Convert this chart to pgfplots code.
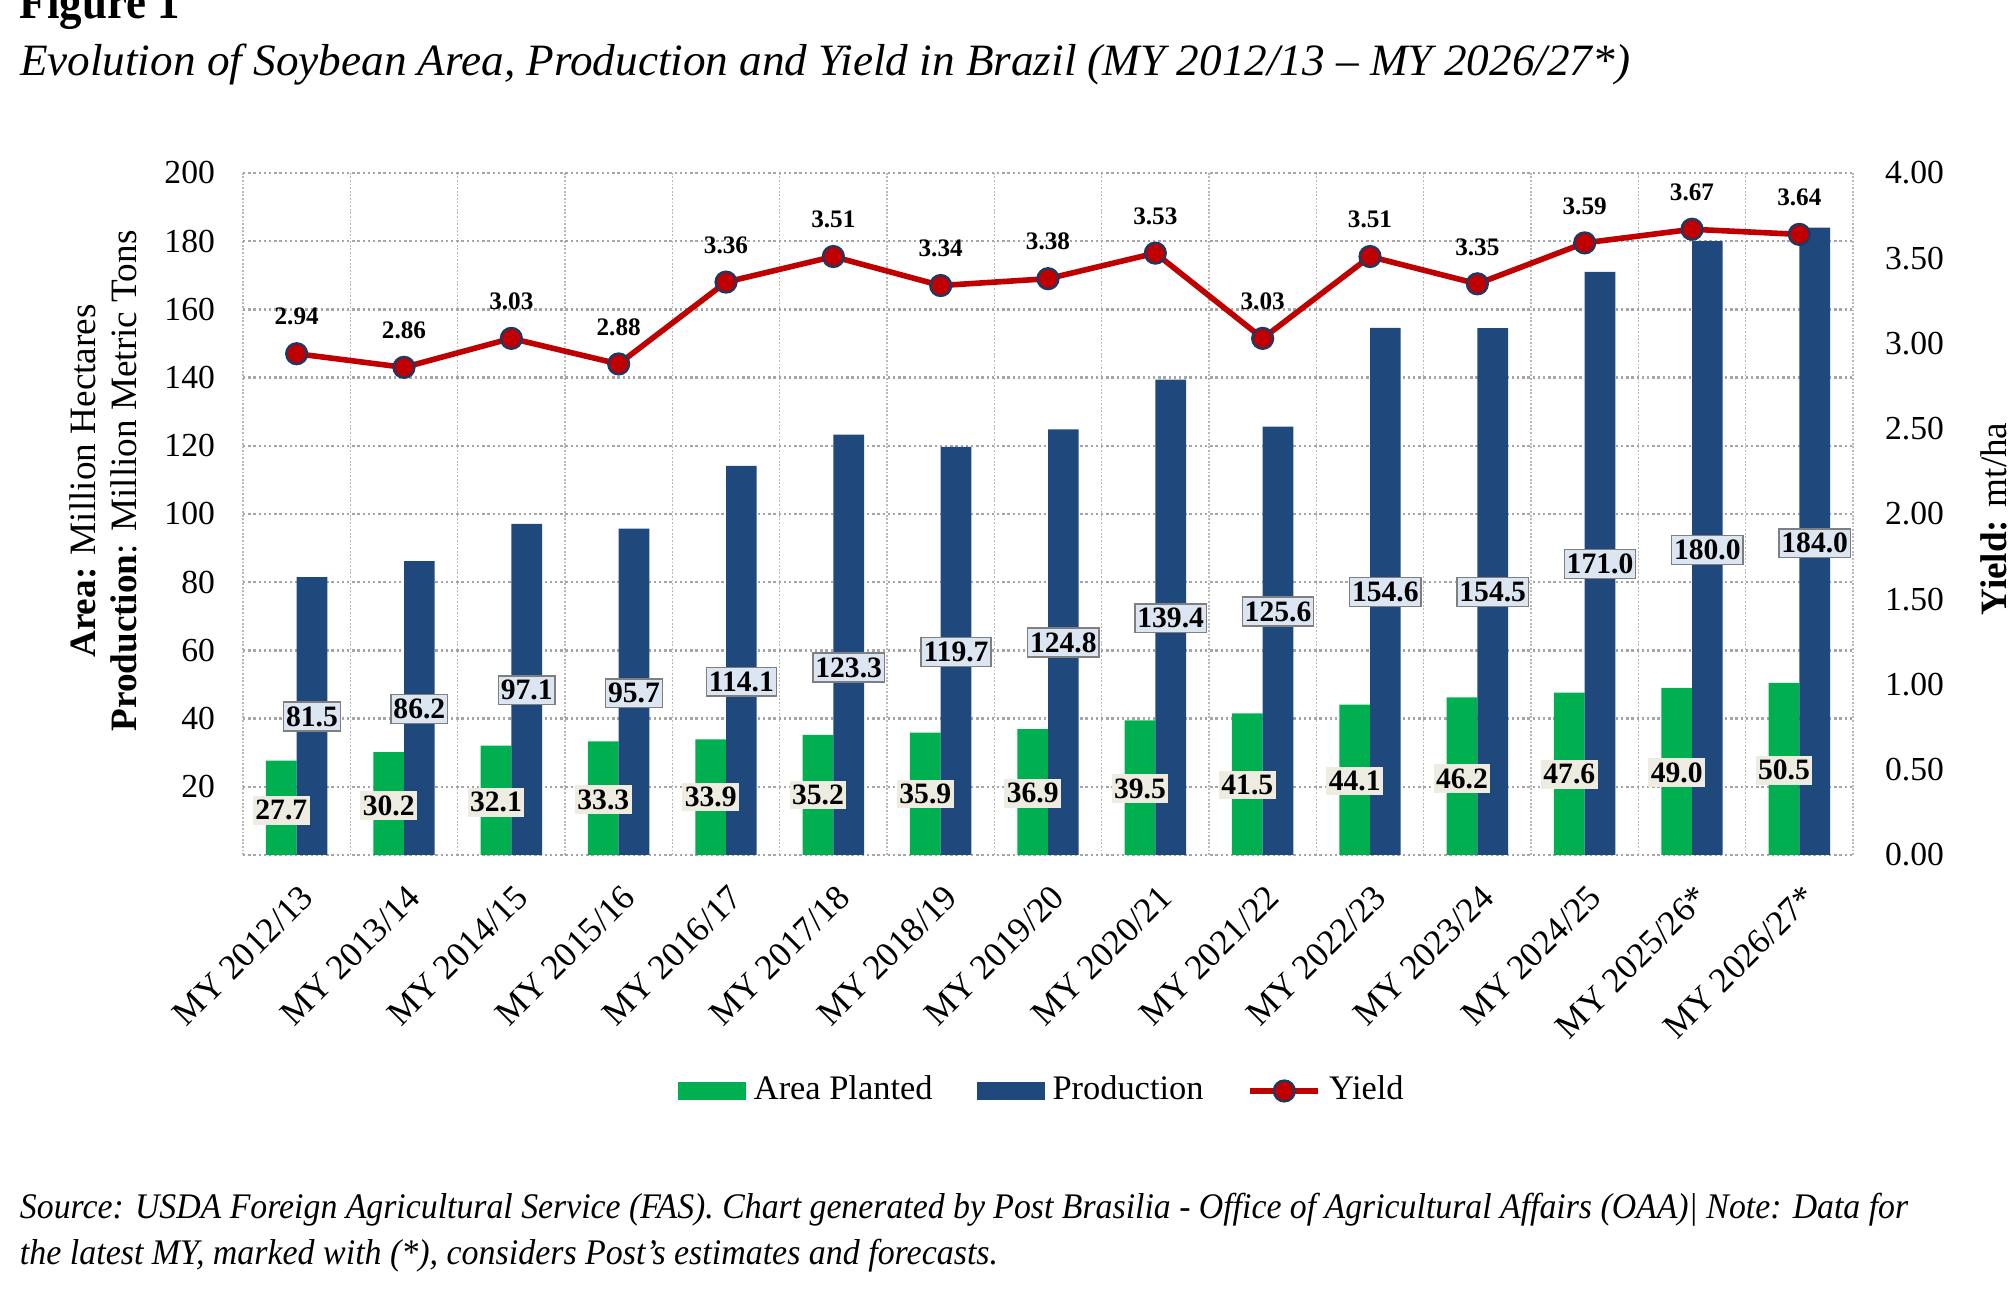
\documentclass[border=0pt]{standalone}
\usepackage{pgfplots}
\pgfplotsset{compat=1.18}
\usepackage{pgfplotstable}
\usepackage{graphicx}
\usepackage{fontspec}
\setmainfont{Liberation Serif}

\definecolor{areagreen}{HTML}{00B050}
\definecolor{prodblue}{HTML}{1F497D}
\definecolor{yieldred}{HTML}{C00000}
\definecolor{markernavy}{HTML}{1F3864}
\definecolor{gridgray}{HTML}{A6A6A6}
\definecolor{prodlabelfill}{HTML}{DCE6F2}
\definecolor{arealabelfill}{HTML}{EEECE1}
\definecolor{labelborder}{HTML}{7F7F7F}

% x: marketing year index; area (Mha), prod (MMT), yield (mt/ha);
% alab / plab: heights at which the value boxes of the two bar series sit
\pgfplotstableread{
x  area  prod   yield  alab  plab
0  27.7  81.5   2.94   13.1  40.6
1  30.2  86.2   2.86   14.5  42.8
2  32.1  97.1   3.03   15.5  48.3
3  33.3  95.7   2.88   16.2  47.4
4  33.9  114.1  3.36   17.0  50.8
5  35.2  123.3  3.51   17.6  55.0
6  35.9  119.7  3.34   17.9  59.5
7  36.9  124.8  3.38   18.1  62.3
8  39.5  139.4  3.53   19.5  69.4
9  41.5  125.6  3.03   20.5  71.4
10 44.1  154.6  3.51   21.7  77.1
11 46.2  154.5  3.35   22.4  77.1
12 47.6  171.0  3.59   23.7  85.3
13 49.0  180.0  3.67   24.2  89.5
14 50.5  184.0  3.64   24.9  91.4
}\soydata

\pgfplotsset{
  soyframe/.style={
    at={(60.75pt,112pt)}, anchor=south west,
    scale only axis, width=402.5pt, height=170.5pt,
    xmin=-0.5, xmax=14.5,
    axis line style={draw=none},
    major tick length=0pt, minor tick length=0pt,
    /pgf/number format/assume math mode=true,
  },
}

\begin{document}
\begin{tikzpicture}
\useasboundingbox (0pt,0pt) rectangle (502pt,325.75pt);

% headings
\node[anchor=base west, inner sep=0pt, font=\bfseries\fontsize{12.5}{14}\selectfont]
  at (4.8pt,321pt) {\resizebox{40pt}{\height}{Figure 1}};
\node[anchor=base west, inner sep=0pt, font=\itshape\fontsize{11.2}{13}\selectfont]
  at (4.8pt,306.9pt) {\resizebox{402.5pt}{\height}{Evolution of Soybean Area, Production and Yield in Brazil (MY 2012/13 – MY 2026/27*)}};

% bars on the left scale
\begin{axis}[
  soyframe,
  ymin=0, ymax=200,
  ytick={20,40,...,200},
  xtick={0,...,14},
  xticklabels={MY 2012/13,MY 2013/14,MY 2014/15,MY 2015/16,MY 2016/17,MY 2017/18,MY 2018/19,MY 2019/20,MY 2020/21,MY 2021/22,MY 2022/23,MY 2023/24,MY 2024/25,MY 2025/26*,MY 2026/27*},
  minor xtick={-0.5,0.5,...,14.5},
  xmajorgrids=false, xminorgrids=true, ymajorgrids=true,
  major grid style={gridgray, line width=0.6pt, dash pattern=on 0.6pt off 0.7pt},
  minor grid style={gridgray!80, line width=0.4pt, dash pattern=on 0.45pt off 0.45pt},
  extra y ticks={0}, extra y tick labels={},
  extra y tick style={grid style={solid, draw=gray!35, line width=0.8pt}},
  yticklabel style={font=\fontsize{8.4}{10}\selectfont, xshift=-3.5pt},
  xticklabel style={font=\fontsize{8.8}{10}\selectfont, rotate=45, anchor=east, xshift=-1.2pt, yshift=-8.3pt},
  legend columns=3,
  legend style={draw=none, fill=none, at={(0.498,-0.346)}, anchor=center,
    font=\fontsize{8.6}{10}\selectfont,
    /tikz/every even column/.append style={column sep=9pt}},
]
\addplot[ybar, bar width=0.286, bar shift=-0.143, fill=areagreen, draw=none,
  legend image code/.code={\fill[areagreen] (0pt,-2.3pt) rectangle (17pt,2.3pt);}]
  table[x=x, y=area] {\soydata};
\addplot[ybar, bar width=0.286, bar shift=0.143, fill=prodblue, draw=none,
  legend image code/.code={\fill[prodblue] (0pt,-2.3pt) rectangle (17pt,2.3pt);}]
  table[x=x, y=prod] {\soydata};
\addlegendimage{legend image code/.code={
  \draw[yieldred, line width=1.4pt] (0pt,0pt) -- (17pt,0pt);
  \filldraw[fill=yieldred, draw=markernavy, line width=0.6pt] (8.5pt,0pt) circle (2.6pt);}}

% value boxes
\addplot[draw=none, forget plot, point meta=\thisrow{area},
  nodes near coords={\pgfmathprintnumber[fixed,fixed zerofill,precision=1]{\pgfplotspointmeta}},
  every node near coord/.append style={anchor=center, fill=arealabelfill,
    inner xsep=0.6pt, inner ysep=1.1pt, font=\bfseries\fontsize{7.4}{8}\selectfont}]
  table[x expr=\thisrow{x}-0.143, y=alab] {\soydata};
\addplot[draw=none, forget plot, point meta=\thisrow{prod},
  nodes near coords={\pgfmathprintnumber[fixed,fixed zerofill,precision=1]{\pgfplotspointmeta}},
  every node near coord/.append style={anchor=center, fill=prodlabelfill,
    draw=labelborder, line width=0.35pt,
    inner xsep=0.6pt, inner ysep=1.1pt, font=\bfseries\fontsize{7.4}{8}\selectfont}]
  table[x expr=\thisrow{x}+0.143, y=plab] {\soydata};

\legend{Area Planted, Production, Yield}
\end{axis}

% yield on the right scale
\begin{axis}[
  soyframe,
  ymin=0, ymax=4,
  axis x line=none, axis y line*=right,
  ytick={0,0.5,1,1.5,2,2.5,3,3.5,4},
  yticklabel style={font=\fontsize{8.4}{10}\selectfont, xshift=4.5pt,
    /pgf/number format/.cd, fixed, fixed zerofill, precision=2},
]
\addplot[yieldred, line width=1.4pt, mark=*, mark size=2.6pt,
  mark options={fill=yieldred, draw=markernavy, line width=0.6pt},
  point meta=\thisrow{yield},
  nodes near coords={\pgfmathprintnumber[fixed,fixed zerofill,precision=2]{\pgfplotspointmeta}},
  every node near coord/.append style={anchor=base, yshift=7.2pt, inner sep=0pt,
    text=black, font=\bfseries\fontsize{6.3}{7}\selectfont}]
  table[x=x, y=yield] {\soydata};
\end{axis}

% axis titles
\node[rotate=90, align=center, font=\fontsize{9.3}{10.2}\selectfont]
  at (25.9pt,205.5pt) {\textbf{Area:} Million Hectares\\\textbf{Production}: Million Metric Tons};
\node[rotate=90, font=\fontsize{9.3}{10.2}\selectfont]
  at (498.5pt,196pt) {\textbf{Yield:} mt/ha};

% source note
\node[anchor=base west, inner sep=0pt, font=\itshape\fontsize{9}{11}\selectfont]
  at (4.8pt,21pt) {\resizebox{472pt}{\height}{Source: USDA Foreign Agricultural Service (FAS). Chart generated by Post Brasilia - Office of Agricultural Affairs (OAA)| Note: Data for}};
\node[anchor=base west, inner sep=0pt, font=\itshape\fontsize{9}{11}\selectfont]
  at (4.8pt,9.5pt) {\resizebox{244.5pt}{\height}{the latest MY, marked with (*), considers Post’s estimates and forecasts.}};
\end{tikzpicture}
\end{document}
